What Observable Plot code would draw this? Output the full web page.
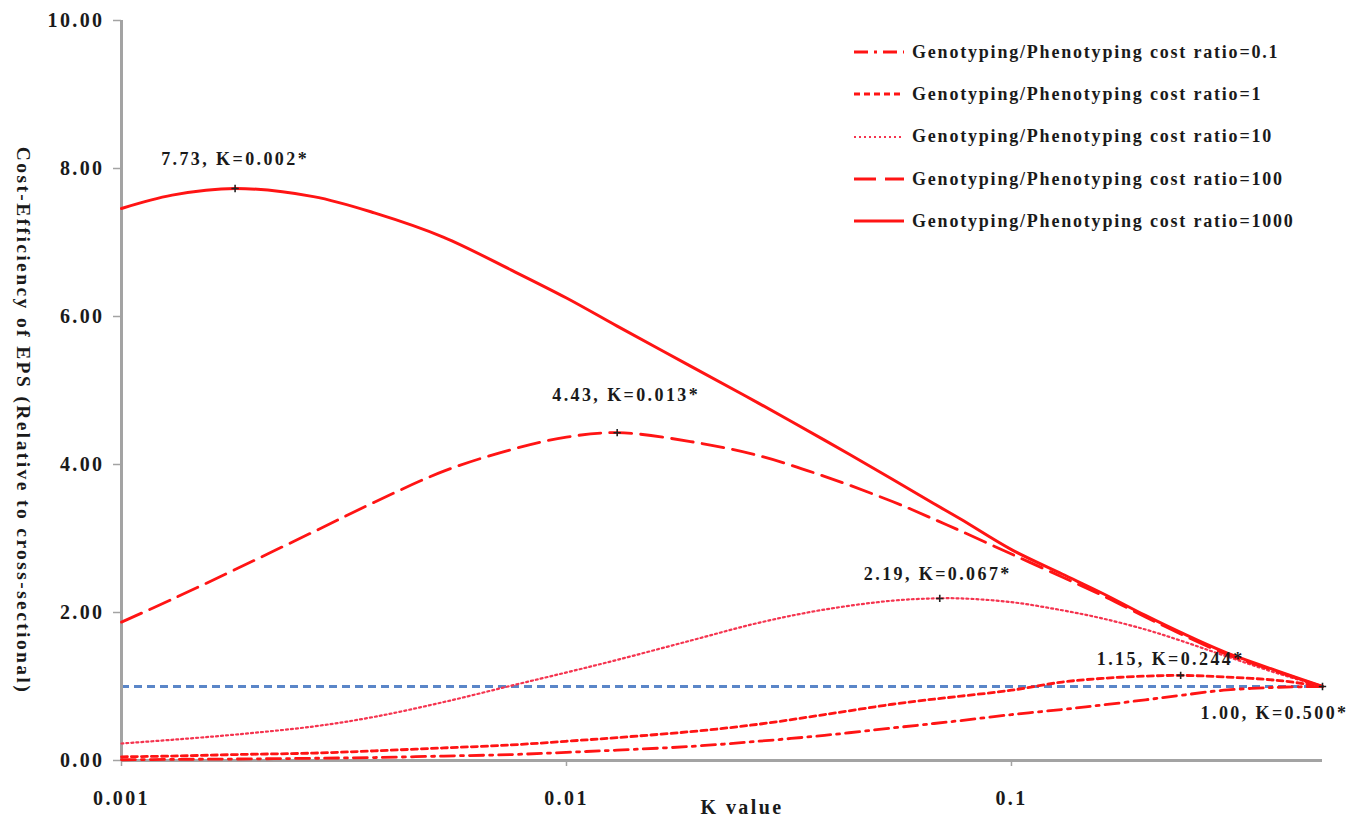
<!DOCTYPE html>
<html><head><meta charset="utf-8">
<script src="https://cdn.jsdelivr.net/npm/d3@7"></script>
<script src="https://cdn.jsdelivr.net/npm/@observablehq/plot@0.6"></script>
<style>
body{margin:0;background:#fff;}
#wrap{position:relative;width:1360px;height:829px;}
#legend{position:absolute;left:852px;top:31px;font-family:'Liberation Serif',serif;font-weight:bold;font-size:18px;letter-spacing:1.8px;color:#1a1a1a;}
.row{display:flex;align-items:center;height:42.3px;white-space:nowrap;}
.row svg{margin-right:6px;flex:none;}
#wrap svg text{letter-spacing:2.4px;}
</style></head><body><div id="wrap"><div id="legend"></div></div>
<script>
// ---- data ----
const kValues   = [0.001, 0.0013, 0.0018, 0.0027, 0.0037, 0.0053, 0.0075, 0.01, 0.013, 0.019, 0.027, 0.038, 0.054, 0.067, 0.077, 0.1, 0.13, 0.16, 0.2, 0.24, 0.3, 0.4, 0.5];
const ratio0_1  = [0.01, 0.015, 0.02, 0.03, 0.04, 0.06, 0.08, 0.11, 0.14, 0.19, 0.26, 0.34, 0.44, 0.50, 0.54, 0.62, 0.69, 0.75, 0.82, 0.88, 0.95, 0.99, 1.00];
const ratio1    = [0.05, 0.06, 0.08, 0.10, 0.13, 0.17, 0.21, 0.26, 0.31, 0.39, 0.49, 0.62, 0.76, 0.83, 0.87, 0.95, 1.06, 1.11, 1.14, 1.15, 1.13, 1.08, 1.00];
const ratio10   = [0.23, 0.28, 0.35, 0.46, 0.59, 0.79, 1.01, 1.19, 1.36, 1.62, 1.86, 2.04, 2.16, 2.19, 2.19, 2.14, 2.03, 1.92, 1.77, 1.62, 1.42, 1.17, 1.00];
const ratio100  = [1.87, 2.18, 2.58, 3.09, 3.49, 3.91, 4.20, 4.37, 4.43, 4.31, 4.12, 3.84, 3.50, 3.26, 3.10, 2.79, 2.48, 2.23, 1.94, 1.71, 1.45, 1.19, 1.00];
const ratio1000 = [7.46, 7.64, 7.73, 7.62, 7.40, 7.07, 6.63, 6.25, 5.87, 5.33, 4.83, 4.33, 3.80, 3.47, 3.26, 2.85, 2.52, 2.26, 1.96, 1.73, 1.47, 1.20, 1.00];
const seriesNames = [
  "Genotyping/Phenotyping cost ratio=0.1",
  "Genotyping/Phenotyping cost ratio=1",
  "Genotyping/Phenotyping cost ratio=10",
  "Genotyping/Phenotyping cost ratio=100",
  "Genotyping/Phenotyping cost ratio=1000"
];
const peakK      = [0.0018, 0.013, 0.069, 0.24, 0.5];
const peakValue  = [7.73, 4.43, 2.19, 1.15, 1.00];
const peakLabels = ["7.73, K=0.002*", "4.43, K=0.013*", "2.19, K=0.067*", "1.15, K=0.244*", "1.00, K=0.500*"];
const referenceLevel = [1];
const xTicks = [0.001, 0.01, 0.1];
const yTicks = [0, 2, 4, 6, 8, 10];
const xLabel = "K value";
const yLabel = "Cost-Efficiency of EPS (Relative to cross-sectional)";

// ---- styles ----
const seriesValues = [ratio0_1, ratio1, ratio10, ratio100, ratio1000];
const seriesStyles = [
  {stroke: "#ff1414", width: 2.8, dash: "14,6,3,6"},
  {stroke: "#ff1414", width: 2.8, dash: "6,4"},
  {stroke: "#f5344f", width: 2.2, dash: "2,3"},
  {stroke: "#ff1414", width: 2.8, dash: "22,9"},
  {stroke: "#ff1414", width: 3,   dash: null}
];
const labelOffsets = [{dx: 0, dy: -29}, {dx: 9, dy: -37}, {dx: -2, dy: -24}, {dx: -10, dy: -16}, {dx: -48, dy: 27}];
const axisGrey = "#a3a3a3";
const textColor = "#1a1a1a";

const peaks = peakK.map((k, i) => ({k, v: peakValue[i], label: peakLabels[i], dx: labelOffsets[i].dx, dy: labelOffsets[i].dy}));

const lineMarks = seriesValues.map((vals, i) => Plot.line(
  kValues.map((k, j) => ({k, v: vals[j]})),
  {x: "k", y: "v", stroke: seriesStyles[i].stroke, strokeWidth: seriesStyles[i].width,
   strokeDasharray: seriesStyles[i].dash, curve: "catmull-rom"}
));

const labelMarks = peaks.map(p => Plot.text([p], {x: "k", y: "v", text: "label", dx: p.dx, dy: p.dy,
  fontSize: 18, fontWeight: "bold", fill: textColor}));

const chart = Plot.plot({
  width: 1360, height: 829,
  marginLeft: 121, marginRight: 38, marginTop: 20, marginBottom: 69,
  style: {fontFamily: "'Liberation Serif', serif", fontWeight: "bold", fontSize: "20px", color: textColor, background: "white"},
  x: {type: "log", domain: [0.001, 0.5]},
  y: {domain: [0, 10]},
  marks: [
    Plot.ruleY(referenceLevel, {stroke: "#5a86c8", strokeWidth: 3, strokeDasharray: "8,5"}),
    Plot.ruleX([0.001], {stroke: axisGrey, strokeWidth: 3}),
    Plot.ruleY([0], {stroke: axisGrey, strokeWidth: 3}),
    Plot.axisY({ticks: yTicks, tickFormat: d3.format(".2f"), tickSize: 8, tickPadding: 9, stroke: axisGrey, strokeWidth: 1.5, label: null}),
    Plot.axisX({ticks: xTicks, tickFormat: d => String(d), tickSize: 6, tickPadding: 24, stroke: axisGrey, strokeWidth: 1.5, label: null}),
    ...lineMarks,
    Plot.dot(peaks, {x: "k", y: "v", symbol: "plus", r: 2.5, stroke: "#222", strokeWidth: 1.6}),
    ...labelMarks,
    Plot.text([xLabel], {frameAnchor: "bottom", dx: 20, dy: 53, fontSize: 20, fontWeight: "bold", fill: textColor}),
    Plot.text([yLabel], {frameAnchor: "left", textAnchor: "middle", rotate: 90, dx: -98, dy: 30, fontSize: 19.5, fontWeight: "bold", fill: textColor})
  ]
});
document.getElementById("wrap").prepend(chart);

// legend
const legend = d3.select("#legend");
seriesNames.forEach((name, i) => {
  const row = legend.append("div").attr("class", "row");
  const sw = row.append("svg").attr("width", 54).attr("height", 10);
  sw.append("line").attr("x1", 2).attr("x2", 52).attr("y1", 5).attr("y2", 5)
    .attr("stroke", seriesStyles[i].stroke).attr("stroke-width", seriesStyles[i].width)
    .attr("stroke-dasharray", seriesStyles[i].dash);
  row.append("span").text(name);
});
</script></body></html>
